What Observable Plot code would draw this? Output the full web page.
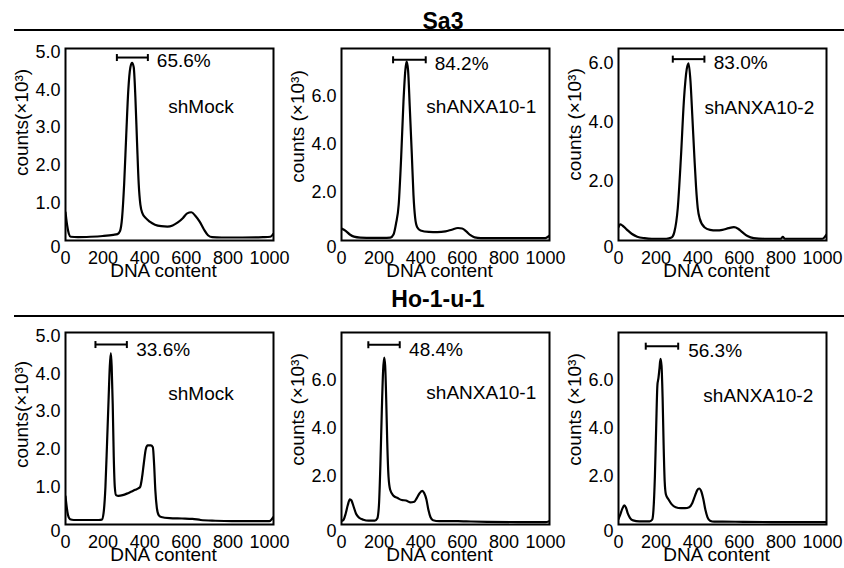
<!DOCTYPE html>
<html><head><meta charset="utf-8">
<script src="https://cdn.jsdelivr.net/npm/d3@7"></script>
<script src="https://cdn.jsdelivr.net/npm/@observablehq/plot@0.6"></script>
<style>
body{margin:0;background:#fff;font-family:"Liberation Sans",Arial,sans-serif;}
#chart{position:relative;width:844px;height:568px;overflow:hidden;background:#fff;}
.hdr{position:absolute;font-weight:bold;font-size:23px;transform:translate(-50%,-50%);white-space:nowrap;color:#000;}
.rule{position:absolute;left:14px;right:0;height:2px;background:#000;}
.panel{position:absolute;}
</style></head><body><div id="chart"></div><script>
// ---- data ----
const groups = ["Sa3", "Ho-1-u-1"];
const dnaTicks = [0, 200, 400, 600, 800, 1000];

const sa3MockX = [0,8,16,25,60,120,180,230,250,262,272,282,292,302,312,320,328,336,344,352,360,370,385,405,430,460,490,515,540,565,585,605,625,645,665,685,705,750,850,950,985,1000];
const sa3MockY = [0.75,0.4,0.18,0.1,0.09,0.1,0.12,0.15,0.17,0.25,0.6,1.5,2.8,4.0,4.6,4.72,4.6,3.8,2.6,1.5,0.95,0.72,0.6,0.5,0.42,0.38,0.37,0.4,0.48,0.6,0.72,0.75,0.65,0.5,0.3,0.14,0.09,0.08,0.08,0.09,0.1,0.18];

const sa3Sh1X = [0,20,40,60,90,150,200,235,250,262,275,287,298,307,313,320,328,338,346,354,364,380,420,460,500,530,560,580,600,620,640,670,800,980,1000];
const sa3Sh1Y = [0.5,0.4,0.25,0.16,0.12,0.11,0.11,0.12,0.25,0.7,1.5,3.5,5.8,7.1,7.45,7.1,5.6,3.6,1.9,0.95,0.55,0.42,0.36,0.35,0.38,0.45,0.52,0.5,0.38,0.22,0.13,0.1,0.1,0.1,0.2];

const sa3Sh2X = [0,8,20,40,65,90,125,160,230,255,269,285,300,315,328,337,346,355,365,373,381,390,413,440,470,500,530,555,575,595,620,650,700,780,790,800,980,1000];
const sa3Sh2Y = [0.45,0.55,0.5,0.37,0.22,0.13,0.08,0.06,0.06,0.1,0.3,1.1,2.8,4.8,5.8,6.0,5.4,4.2,2.8,1.8,1.1,0.75,0.45,0.36,0.34,0.36,0.42,0.45,0.4,0.28,0.15,0.08,0.06,0.06,0.12,0.06,0.06,0.2];

const hoMockX = [0,5,12,22,40,100,160,175,183,192,200,207,213,218,222,227,232,237,243,255,275,295,315,335,350,359,368,376,386,395,410,420,426,432,439,448,460,500,560,610,650,720,800,980,1000];
const hoMockY = [0.75,0.5,0.25,0.14,0.12,0.12,0.12,0.13,0.3,1.0,2.2,3.3,4.2,4.55,4.2,3.2,1.8,1.0,0.78,0.76,0.78,0.82,0.87,0.92,0.96,1.0,1.25,1.6,2.0,2.1,2.1,2.05,1.6,0.9,0.45,0.25,0.2,0.17,0.16,0.15,0.12,0.1,0.09,0.09,0.2];

const hoSh1X = [0,10,20,30,40,48,58,70,85,105,130,160,172,180,187,194,200,205,210,215,220,226,234,250,270,290,310,330,350,362,375,388,398,408,418,428,440,470,560,600,700,850,980,1000];
const hoSh1Y = [0.15,0.2,0.45,0.8,1.05,1.0,0.75,0.45,0.28,0.2,0.16,0.16,0.25,0.8,2.5,4.8,6.4,6.95,6.6,5.2,3.4,2.0,1.45,1.2,1.1,1.02,1.0,0.92,0.95,1.1,1.3,1.4,1.3,1.05,0.6,0.3,0.18,0.14,0.14,0.13,0.11,0.1,0.1,0.14];

const hoSh2X = [0,8,18,28,36,45,55,70,100,150,162,168,175,181,187,192,197,202,207,212,217,222,228,240,255,275,300,320,340,355,368,378,388,398,408,418,428,440,460,500,600,800,1000];
const hoSh2Y = [0.22,0.4,0.65,0.8,0.7,0.45,0.28,0.17,0.13,0.13,0.2,0.6,2.0,4.0,5.8,6.1,6.5,6.9,6.6,5.3,3.3,1.8,1.25,1.05,0.85,0.72,0.68,0.68,0.72,0.9,1.2,1.42,1.5,1.38,1.05,0.6,0.3,0.16,0.12,0.12,0.11,0.1,0.1];

const sampleNames = ["shMock","shANXA10-1","shANXA10-2","shMock","shANXA10-1","shANXA10-2"];
const pctLabels = ["65.6%","84.2%","83.0%","33.6%","48.4%","56.3%"];
const yLabels = ["counts(×10³)","counts (×10³)","counts (×10³)","counts(×10³)","counts (×10³)","counts (×10³)"];
const yMaxes = [5.1, 8, 6.5, 5.1, 8, 8];
const yTickSets = [[0,1,2,3,4,5],[0,2,4,6],[0,2,4,6],[0,1,2,3,4,5],[0,2,4,6],[0,2,4,6]];
// gate bar (start, end, level) and annotation anchors in data units
const barStarts = [247,248,261,144,129,131];
const barEnds   = [396,405,413,295,280,287];
const barLevels = [4.86,7.53,6.14,4.78,7.49,7.43];
const pctAnchorX = [439,448,458,340,325,335];
const pctAnchorY = [4.76,7.36,6.0,4.65,7.29,7.24];
const nameAnchorX = [494,408,413,494,408,408];
const nameAnchorY = [3.56,5.58,4.5,3.48,5.47,5.37];

const seriesX = [sa3MockX, sa3Sh1X, sa3Sh2X, hoMockX, hoSh1X, hoSh2X];
const seriesY = [sa3MockY, sa3Sh1Y, sa3Sh2Y, hoMockY, hoSh1Y, hoSh2Y];

// ---- layout (pixels) ----
const ML = 65, MR = 18, MT = 8, MB = 42, FW = 208, FH = 192;
const layout = [
  {fx: 65, fy: 48, ly: -22}, {fx: 341, fy: 48, ly: -18}, {fx: 618, fy: 48, ly: -20},
  {fx: 65, fy: 332, ly: -14}, {fx: 341, fy: 332, ly: -19}, {fx: 618, fy: 332, ly: -19}
];
const headers = [{x: 443, y: 21, line: 30}, {x: 438, y: 299, line: 316}];

const chart = document.getElementById("chart");
headers.forEach((h, i) => {
  const t = document.createElement("div");
  t.className = "hdr"; t.textContent = groups[i];
  t.style.left = h.x + "px"; t.style.top = h.y + "px";
  chart.appendChild(t);
  const r = document.createElement("div");
  r.className = "rule"; r.style.top = (h.line - 1) + "px";
  chart.appendChild(r);
});

const capSymbol = {draw(ctx, size) { const h = Math.sqrt(size / Math.PI); ctx.moveTo(0, -h); ctx.lineTo(0, h); }};
const FONT = "'Liberation Sans', Arial, sans-serif";

seriesX.forEach((xs, i) => {
  const L = layout[i];
  const pts = xs.map((x, j) => ({x, y: seriesY[i][j]}));
  const ann = {start: barStarts[i], end: barEnds[i], level: barLevels[i],
    px: pctAnchorX[i], py: pctAnchorY[i], pct: pctLabels[i],
    nx: nameAnchorX[i], ny: nameAnchorY[i], name: sampleNames[i]};
  const caps = [{x: ann.start, y: ann.level}, {x: ann.end, y: ann.level}];
  const svg = Plot.plot({
    width: ML + FW + MR, height: MT + FH + MB,
    marginLeft: ML, marginRight: MR, marginTop: MT, marginBottom: MB,
    style: {background: "transparent", fontFamily: FONT, fontSize: "18px", color: "#000", overflow: "visible"},
    x: {domain: [0, 1000]},
    y: {domain: [0, yMaxes[i]]},
    marks: [
      Plot.axisX({ticks: dnaTicks.filter(t => t > 0), tickSize: 0, tickPadding: 11, tickFormat: d => String(d), label: null, fontSize: 18, dx: -4}),
      Plot.axisX({ticks: [0], tickSize: 0, tickPadding: 11, tickFormat: () => "0", label: null, fontSize: 18}),
      Plot.axisY({ticks: yTickSets[i].filter(t => t > 0), tickSize: 0, tickPadding: 5, tickFormat: d => d.toFixed(1), label: null, fontSize: 18}),
      Plot.axisY({ticks: [0], tickSize: 0, tickPadding: 5, tickFormat: () => "0", dy: 7, label: null, fontSize: 18}),
      Plot.line(pts, {x: "x", y: "y", stroke: "#000", strokeWidth: 2.2, curve: "monotone-x", clip: true}),
      Plot.ruleY([ann], {x1: "start", x2: "end", y: "level", stroke: "#000", strokeWidth: 2}),
      Plot.dot(caps, {x: "x", y: "y", symbol: capSymbol, r: 3.5, stroke: "#000", strokeWidth: 2, fill: "none"}),
      Plot.text([ann], {x: "px", y: "py", text: "pct", textAnchor: "start", fontSize: 19, fill: "#000"}),
      Plot.text([ann], {x: "nx", y: "ny", text: "name", textAnchor: "start", fontSize: 19, fill: "#000"}),
      Plot.text([yLabels[i]], {text: d => d, frameAnchor: "left", textAnchor: "middle", lineAnchor: "middle", rotate: -90, dx: -44, dy: L.ly, fontSize: 19, fill: "#000"}),
      Plot.text(["DNA content"], {text: d => d, frameAnchor: "bottom", textAnchor: "middle", lineAnchor: "middle", dy: 30, dx: -6, fontSize: 19, fill: "#000"}),
      Plot.frame({stroke: "#000", strokeWidth: 2})
    ]
  });
  const wrap = document.createElement("div");
  wrap.className = "panel";
  wrap.style.left = (L.fx - ML) + "px";
  wrap.style.top = (L.fy - MT) + "px";
  wrap.appendChild(svg);
  chart.appendChild(wrap);
});
</script></body></html>
